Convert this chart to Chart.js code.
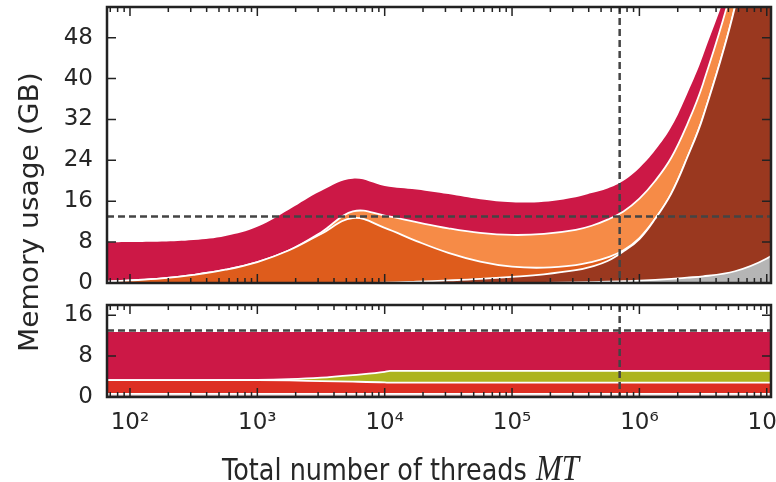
<!DOCTYPE html>
<html>
<head>
<meta charset="utf-8">
<script src="https://cdn.jsdelivr.net/npm/chart.js@4.4.1/dist/chart.umd.min.js"></script>
<style>
  html, body { margin: 0; padding: 0; background: #fff; }
  #wrap { position: relative; width: 776px; height: 482px; overflow: hidden; font-family: 'DejaVu Sans', sans-serif; color: #262626; }
  canvas { position: absolute; left: 0; }
  #topCanvas { top: 0; }
  #bottomCanvas { top: 295px; }
  .xtitle { position: absolute; left: 222px; top: 450px; font-size: 25.5px; line-height: 1; white-space: nowrap; transform-origin: 0 0; transform: scaleY(1.17); }
  .xtitle i { font-family: 'Liberation Serif', serif; font-size: 31px; margin-left: 1px; }
  .ytitle { position: absolute; left: 15px; top: 352px; font-size: 27px; line-height: 1; white-space: nowrap; transform-origin: 0 0; transform: rotate(-90deg) scaleX(1.04); }
</style>
</head>
<body>
<div id="wrap">
  <canvas id="topCanvas" width="776" height="295"></canvas>
  <canvas id="bottomCanvas" width="776" height="187"></canvas>
  <div class="ytitle">Memory usage (GB)</div>
  <div class="xtitle">Total number of threads <i>MT</i></div>
</div>
<script>
// total number of threads (x) where the curves were read
const threadsTop = [56, 100, 178, 316, 562, 1000, 1778, 3162, 5623, 10000, 17783, 31623, 56234, 100000, 177828, 316228, 421697, 562341, 749894, 1000000, 1333521, 1778279, 2371374, 3162278, 5623413, 10000000, 17782794];
// upper edge of each stacked band, GB (top panel)
const grayTop    = [0, 0, 0, 0, 0, 0, 0, 0, 0, 0, 0, 0, 0, 0, 0.03, 0.1, 0.17, 0.25, 0.35, 0.45, 0.6, 0.8, 1.05, 1.3, 2.3, 4.8, 9];
const brownTop   = [0, 0, 0, 0, 0, 0, 0, 0, 0, 0.05, 0.25, 0.5, 0.8, 1.2, 1.7, 2.5, 3.2, 4.3, 6.2, 8.6, 12.6, 17.5, 24.5, 32.5, 54, 85, 130];
const darkTop    = [0.2, 0.5, 0.9, 1.6, 2.6, 4.1, 6.4, 9.6, 12.7, 10.8, 8.2, 5.9, 4.2, 3.2, 3.0, 3.5, 4.1, 5.0, 6.4, 8.8, 12.6, 17.5, 24.5, 32.5, 54, 85, 130];
const lightTop   = [0.2, 0.5, 0.9, 1.6, 2.6, 4.1, 6.4, 9.9, 14.0, 13.2, 11.9, 10.7, 9.8, 9.4, 9.6, 10.4, 11.2, 12.4, 14.0, 16.5, 20.0, 24.5, 31, 39, 60, 90, 140];
const crimsonTop = [8.0, 8.0, 8.1, 8.4, 9.2, 11.0, 14.4, 18.0, 20.4, 19.0, 18.3, 17.4, 16.4, 15.8, 15.9, 16.8, 17.6, 18.5, 20.0, 22.5, 26.0, 30.5, 37, 44.5, 63, 95, 145];

// bottom panel
const threadsBottom = [56, 316, 1000, 1778, 3162, 5623, 10000, 11000, 100000, 17782794];
const lowGrayTop    = [0.6, 0.6, 0.6, 0.6, 0.6, 0.6, 0.6, 0.6, 0.6, 0.6];
const redTop        = [3.3, 3.3, 3.3, 3.25, 3.1, 3.0, 2.85, 2.8, 2.8, 2.8];
const oliveTop      = [3.3, 3.3, 3.35, 3.5, 3.8, 4.3, 4.9, 5.1, 5.1, 5.1];
const lowCrimsonTop = [12.7, 12.7, 12.7, 12.7, 12.7, 12.7, 12.7, 12.7, 12.7, 12.7];

// reference lines
const limitGB = 13;
const limitThreads = 7e5;

// ticks
const xTickValues = [1e2, 1e3, 1e4, 1e5, 1e6, 1e7];
const xTickLabels = ['10²', '10³', '10⁴', '10⁵', '10⁶', '10⁷'];
const yTicksTop = [0, 8, 16, 24, 32, 40, 48];
const yTicksBottom = [0, 8, 16];

Chart.defaults.font.family = "'DejaVu Sans', sans-serif";
Chart.defaults.color = '#262626';

const frameColor = '#222';

const framePlugin = {
  id: 'frame',
  afterDatasetsDraw(chart) {
    const ctx = chart.ctx;
    const a = chart.chartArea;
    const x = chart.scales.x;
    const y = chart.scales.y;

    // dashed guide lines
    ctx.save();
    ctx.beginPath();
    ctx.rect(a.left, a.top, a.right - a.left, a.bottom - a.top);
    ctx.clip();
    ctx.strokeStyle = '#444';
    ctx.lineWidth = 2.5;
    ctx.setLineDash([7, 4]);
    const gy = y.getPixelForValue(limitGB);
    ctx.beginPath();
    ctx.moveTo(a.left, gy);
    ctx.lineTo(a.right, gy);
    ctx.stroke();
    const gx = x.getPixelForValue(limitThreads);
    ctx.beginPath();
    ctx.moveTo(gx, a.top);
    ctx.lineTo(gx, a.bottom);
    ctx.stroke();
    ctx.restore();

    // inward ticks on all four sides
    ctx.save();
    ctx.strokeStyle = frameColor;
    ctx.lineWidth = 1.5;
    ctx.beginPath();
    for (let e = 1; e <= 7; e++) {
      for (let k = 1; k <= 9; k++) {
        const v = k * Math.pow(10, e);
        if (v < x.min || v > x.max) continue;
        const px = x.getPixelForValue(v);
        const len = k === 1 ? 9 : 5;
        ctx.moveTo(px, a.bottom);
        ctx.lineTo(px, a.bottom - len);
        ctx.moveTo(px, a.top);
        ctx.lineTo(px, a.top + len);
      }
    }
    y.ticks.forEach(function(t) {
      const py = y.getPixelForValue(t.value);
      ctx.moveTo(a.left, py);
      ctx.lineTo(a.left + 9, py);
      ctx.moveTo(a.right, py);
      ctx.lineTo(a.right - 9, py);
    });
    ctx.stroke();

    ctx.lineWidth = 2.5;
    ctx.strokeRect(a.left, a.top, a.right - a.left, a.bottom - a.top);
    ctx.restore();
  }
};

function band(data, color, fill, edge, smooth) {
  const ds = {
    data: data,
    backgroundColor: color,
    borderColor: edge ? '#ffffff' : color,
    borderWidth: edge ? 1.8 : 0,
    fill: fill,
    pointRadius: 0
  };
  if (smooth) {
    ds.tension = 0.4;
  } else {
    ds.cubicInterpolationMode = 'monotone';
  }
  return ds;
}

function yAxis(max, ticks) {
  return {
    type: 'linear',
    min: 0,
    max: max,
    grid: { display: false, drawTicks: false },
    border: { display: false },
    ticks: { font: { size: 23 }, padding: 14 },
    afterBuildTicks: function(scale) {
      scale.ticks = ticks.map(function(v) { return { value: v }; });
    },
    afterFit: function(scale) {
      scale.width = 107;
      scale.paddingTop = 0;
      scale.paddingBottom = 0;
    }
  };
}

function xAxis(showLabels, height) {
  return {
    type: 'logarithmic',
    min: 66,
    max: 1.08e7,
    bounds: 'data',
    grid: { display: false, drawTicks: false },
    border: { display: false },
    ticks: {
      display: showLabels,
      font: { size: 23 },
      padding: 12,
      maxRotation: 0,
      autoSkip: false,
      callback: function(value) {
        const i = xTickValues.indexOf(value);
        return i >= 0 ? xTickLabels[i] : '';
      }
    },
    afterBuildTicks: function(scale) {
      scale.ticks = xTickValues.map(function(v) { return { value: v }; });
    },
    afterFit: function(scale) {
      scale.height = height;
      scale.paddingLeft = 0;
      scale.paddingRight = 0;
    }
  };
}

const commonOptions = {
  responsive: false,
  animation: false,
  events: [],
  plugins: { legend: { display: false }, tooltip: { enabled: false } }
};

new Chart(document.getElementById('topCanvas'), {
  type: 'line',
  data: {
    labels: threadsTop,
    datasets: [
      band(grayTop, '#b5b5b5', 'origin', true, false),
      band(brownTop, '#9a381f', '-1', true, true),
      band(darkTop, '#de5c1c', '-1', true, true),
      band(lightTop, '#f68b47', '-1', true, true),
      band(crimsonTop, '#cc1846', '-1', false, true)
    ]
  },
  options: Object.assign({}, commonOptions, {
    layout: { padding: { left: 0, right: 5, top: 7, bottom: 12 } },
    scales: { x: xAxis(false, 0), y: yAxis(54, yTicksTop) }
  }),
  plugins: [framePlugin]
});

new Chart(document.getElementById('bottomCanvas'), {
  type: 'line',
  data: {
    labels: threadsBottom,
    datasets: [
      band(lowGrayTop, '#c4b0b0', 'origin', true, false),
      band(redTop, '#dd2f23', '-1', true, false),
      band(oliveTop, '#adb41e', '-1', true, false),
      band(lowCrimsonTop, '#cc1846', '-1', false, false)
    ]
  },
  options: Object.assign({}, commonOptions, {
    layout: { padding: { left: 0, right: 5, top: 10, bottom: 0 } },
    scales: { x: xAxis(true, 85), y: yAxis(18, yTicksBottom) }
  }),
  plugins: [framePlugin]
});
</script>
</body>
</html>
